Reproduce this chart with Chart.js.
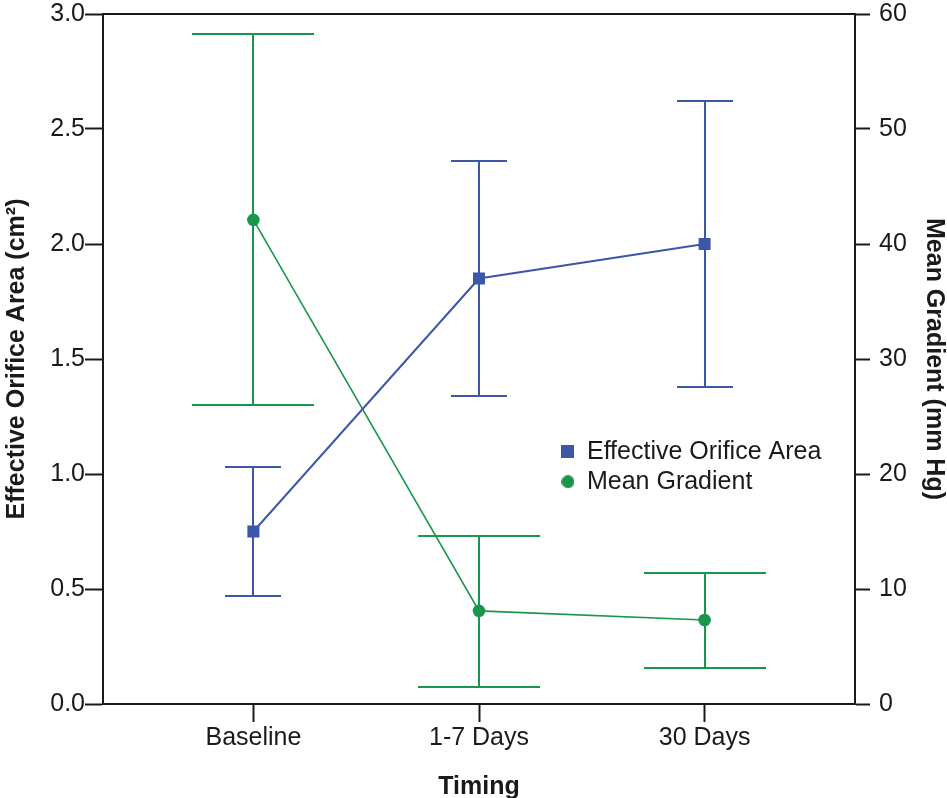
<!DOCTYPE html>
<html>
<head>
<meta charset="utf-8">
<script src="https://cdn.jsdelivr.net/npm/chart.js@4.4.1/dist/chart.umd.min.js"></script>
<style>
  html, body { margin: 0; padding: 0; background: #fff; }
  canvas { display: block; }
</style>
</head>
<body>
<canvas id="timingChart" width="947" height="798"></canvas>
<script>
// data
const categories = ["Baseline", "1-7 Days", "30 Days"];
const positions = [0, 1, 2];

const eoaMean = [0.75, 1.85, 2.0];
const eoaLow = [0.47, 1.34, 1.38];
const eoaHigh = [1.03, 2.36, 2.62];

const gradMean = [42.1, 8.1, 7.3];
const gradLow = [26.0, 1.5, 3.1];
const gradHigh = [58.3, 14.6, 11.4];

const leftTicks = [0, 0.5, 1.0, 1.5, 2.0, 2.5, 3.0];
const rightTicks = [0, 10, 20, 30, 40, 50, 60];

const blue = "rgb(61, 87, 168)";
const green = "rgb(24, 150, 76)";
const ink = "#1a1a1a";

Chart.defaults.font.family = "'Liberation Sans', Arial, sans-serif";
Chart.defaults.font.size = 25;
Chart.defaults.color = ink;

// whisker half widths in px per dataset
const errorRanges = [
    { low: eoaLow, high: eoaHigh, cap: 28, width: 2 },
    { low: gradLow, high: gradHigh, cap: 61, width: 2 }
];

const errorBars = {
    id: "errorBars",
    beforeDatasetsDraw(chart) {
        const ctx = chart.ctx;
        const xs = chart.scales.x;
        chart.data.datasets.forEach((ds, d) => {
            const ys = chart.scales[ds.yAxisID];
            const r = errorRanges[d];
            ctx.save();
            ctx.strokeStyle = ds.borderColor;
            ctx.lineWidth = r.width;
            ds.data.forEach((p, i) => {
                const px = Math.round(xs.getPixelForValue(p.x));
                const top = Math.round(ys.getPixelForValue(r.high[i]));
                const bot = Math.round(ys.getPixelForValue(r.low[i]));
                ctx.beginPath();
                ctx.moveTo(px, top);
                ctx.lineTo(px, bot);
                ctx.moveTo(px - r.cap, top);
                ctx.lineTo(px + r.cap, top);
                ctx.moveTo(px - r.cap, bot);
                ctx.lineTo(px + r.cap, bot);
                ctx.stroke();
            });
            ctx.restore();
        });
    }
};

// put the legend inside the plot, right of centre
const legendPlacer = {
    id: "legendPlacer",
    afterLayout(chart) {
        const a = chart.chartArea;
        const lg = chart.legend;
        lg.left = a.left + a.width * 0.603;
        lg.top = a.top + a.height * 0.609;
        lg.right = a.right;
        lg.bottom = a.bottom;
        lg.width = lg.right - lg.left;
        lg.height = lg.bottom - lg.top;
    }
};

function marker(kind, color, size){
    const c = document.createElement("canvas");
    c.width = size;
    c.height = size;
    const g = c.getContext("2d");
    g.fillStyle = color;
    if(kind === "rect"){
        g.fillRect(0, 0, size, size);
    } else {
        g.beginPath();
        g.arc(size / 2, size / 2, size / 2, 0, Math.PI * 2);
        g.fill();
    }
    return c;
}
const legendMarkers = [marker("rect", blue, 13), marker("circle", green, 13)];

// fixed axis box sizes, no extra label overflow padding
function fitVertical(w){
    return s => { s.width = w; s.paddingTop = 0; s.paddingBottom = 0; };
}

new Chart(document.getElementById("timingChart"), {
    type: "line",
    data: {
        datasets: [
            {
                label: "Effective Orifice Area",
                data: positions.map((x, i) => ({ x: x, y: eoaMean[i] })),
                yAxisID: "y",
                borderColor: blue,
                backgroundColor: blue,
                borderWidth: 2,
                pointStyle: "rect",
                pointRadius: 8.5,
                pointBorderWidth: 0,
                tension: 0
            },
            {
                label: "Mean Gradient",
                data: positions.map((x, i) => ({ x: x, y: gradMean[i] })),
                yAxisID: "y1",
                borderColor: green,
                backgroundColor: green,
                borderWidth: 1.6,
                pointStyle: "circle",
                pointRadius: 6.3,
                pointBorderWidth: 0,
                tension: 0
            }
        ]
    },
    options: {
        responsive: false,
        animation: false,
        layout: { padding: 0 },
        scales: {
            x: {
                type: "linear",
                position: "bottom",
                min: -2 / 3,
                max: 8 / 3,
                afterBuildTicks: s => { s.ticks = positions.map(v => ({ value: v })); },
                afterFit: s => { s.height = 94; s.paddingLeft = 0; s.paddingRight = 0; },
                ticks: {
                    callback: (v, i) => categories[i],
                    padding: 1,
                    maxRotation: 0,
                    autoSkip: false,
                    color: ink
                },
                grid: { drawOnChartArea: false, tickLength: 18, tickWidth: 2, tickColor: ink },
                border: { color: ink, width: 2 },
                title: {
                    display: true,
                    text: "Timing",
                    color: ink,
                    font: { weight: "bold", lineHeight: 0.9 },
                    padding: { top: 0, bottom: 0 }
                }
            },
            xTop: {
                type: "linear",
                position: "top",
                min: -2 / 3,
                max: 8 / 3,
                afterFit: s => { s.height = 14; s.paddingLeft = 0; s.paddingRight = 0; },
                ticks: { display: false },
                grid: { display: false },
                border: { color: ink, width: 2 }
            },
            y: {
                position: "left",
                min: 0,
                max: 3,
                afterBuildTicks: s => { s.ticks = leftTicks.map(v => ({ value: v })); },
                afterFit: fitVertical(103),
                ticks: { callback: v => v.toFixed(1), padding: 0, color: ink },
                grid: { drawOnChartArea: false, tickLength: 18, tickWidth: 2, tickColor: ink },
                border: { color: ink, width: 2 },
                title: {
                    display: true,
                    text: "Effective Orifice Area (cm²)",
                    color: ink,
                    font: { weight: "bold", lineHeight: 1.2 },
                    padding: { top: 2, bottom: 0 }
                }
            },
            y1: {
                position: "right",
                min: 0,
                max: 60,
                afterBuildTicks: s => { s.ticks = rightTicks.map(v => ({ value: v })); },
                afterFit: fitVertical(92),
                ticks: { padding: 9, color: ink },
                grid: { drawOnChartArea: false, tickLength: 15, tickWidth: 2, tickColor: ink },
                border: { color: ink, width: 2 },
                title: {
                    display: true,
                    text: "Mean Gradient (mm Hg)",
                    color: ink,
                    font: { weight: "bold", lineHeight: 1.04 },
                    padding: { top: 0, bottom: 0 }
                }
            }
        },
        plugins: {
            legend: {
                position: "chartArea",
                align: "start",
                labels: {
                    usePointStyle: true,
                    boxWidth: 13,
                    boxHeight: 13,
                    padding: 5,
                    color: ink,
                    font: { size: 25 },
                    generateLabels: chart => {
                        const items = Chart.defaults.plugins.legend.labels.generateLabels(chart);
                        items.forEach((it, i) => { it.pointStyle = legendMarkers[i]; });
                        return items;
                    }
                }
            },
            tooltip: { enabled: false }
        }
    },
    plugins: [errorBars, legendPlacer]
});
</script>
</body>
</html>
